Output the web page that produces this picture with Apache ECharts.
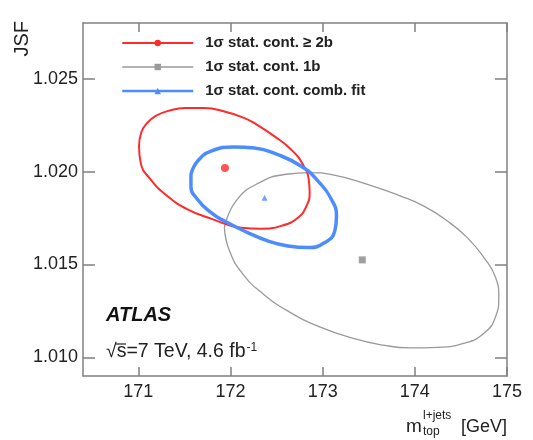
<!DOCTYPE html>
<html>
<head>
<meta charset="utf-8">
<script src="https://cdn.jsdelivr.net/npm/echarts@6/dist/echarts.min.js"></script>
<style>
  html, body { margin: 0; padding: 0; background: #fff; }
  #chart { width: 533px; height: 440px; }
</style>
</head>
<body>
<div id="chart"></div>
<script>
// tick labels
var xTicks = [171, 172, 173, 174, 175];
var yTicks = [1.010, 1.015, 1.020, 1.025];

// legend names
var names = ["1σ stat. cont. ≥ 2b", "1σ stat. cont. 1b", "1σ stat. cont. comb. fit"];

// best-fit points [mtop, JSF]
var pt2b = [[171.94, 1.0202]];
var pt1b = [[173.43, 1.01525]];
var ptComb = [[172.37, 1.01859]];

// 1 sigma contours
var ell2b = [
  [171.008, 1.02136], [171.030, 1.02208], [171.095, 1.02261], [171.190, 1.02300],
  [171.340, 1.02329], [171.510, 1.02342], [171.716, 1.02342], [171.934, 1.02324],
  [172.151, 1.02288], [172.260, 1.02261], [172.478, 1.02190], [172.660, 1.02118],
  [172.786, 1.02038], [172.849, 1.01957], [172.859, 1.01886], [172.824, 1.01815],
  [172.732, 1.01752], [172.551, 1.01708], [172.333, 1.01693], [172.115, 1.01698],
  [171.789, 1.01747], [171.534, 1.01797], [171.316, 1.01868], [171.135, 1.01957],
  [171.026, 1.02047], [171.008, 1.02136]
];
var ell1b = [
  [171.934, 1.01700], [172.061, 1.01843], [172.315, 1.01941], [172.606, 1.01986],
  [172.859, 1.01995], [173.113, 1.01983], [173.477, 1.01933], [173.840, 1.01870],
  [174.094, 1.01816], [174.349, 1.01736], [174.566, 1.01646], [174.747, 1.01539],
  [174.875, 1.01432], [174.911, 1.01325], [174.875, 1.01218], [174.747, 1.01129],
  [174.529, 1.01075], [174.240, 1.01054], [173.949, 1.01051], [173.658, 1.01066],
  [173.331, 1.01102], [172.968, 1.01164], [172.642, 1.01244], [172.351, 1.01343],
  [172.133, 1.01450], [171.988, 1.01575], [171.934, 1.01700]
];
var ellComb = [
  [171.571, 1.01984], [171.643, 1.02056], [171.789, 1.02110], [172.042, 1.02133],
  [172.260, 1.02127], [172.514, 1.02091], [172.769, 1.02029], [172.950, 1.01949],
  [173.096, 1.01850], [173.150, 1.01761], [173.132, 1.01681], [173.023, 1.01618],
  [172.841, 1.01591], [172.623, 1.01600], [172.405, 1.01627], [172.187, 1.01672],
  [171.934, 1.01734], [171.789, 1.01779], [171.643, 1.01850], [171.571, 1.01922],
  [171.571, 1.01984]
];

var RED = "#ff2a2a";
var GRAY = "#9a9a9a";
var BLUE = "#4d8cff";
var FRAME = "#808080";
var FONT = "Liberation Sans, Arial, sans-serif";

var chart = echarts.init(document.getElementById("chart"));

function xAx(pos, labels) {
  return {
    type: "value", position: pos, min: 170.4, max: 175,
    axisLine: { show: true, lineStyle: { color: FRAME, width: 1.5 } },
    axisTick: { show: true, inside: true, length: 9, customValues: xTicks, lineStyle: { color: FRAME, width: 1.5 } },
    axisLabel: labels ? {
      show: true, customValues: xTicks, color: "#222", fontSize: 18, margin: 7, fontFamily: FONT
    } : { show: false },
    splitLine: { show: false }
  };
}
function yAx(pos, labels) {
  return {
    type: "value", position: pos, min: 1.009, max: 1.028,
    axisLine: { show: true, lineStyle: { color: FRAME, width: 1.5 } },
    axisTick: { show: true, inside: true, length: 12, customValues: yTicks, lineStyle: { color: FRAME, width: 1.5 } },
    axisLabel: labels ? {
      show: true, customValues: yTicks, color: "#222", fontSize: 18, margin: 5, fontFamily: FONT,
      formatter: function (v) { return v.toFixed(3); }
    } : { show: false },
    splitLine: { show: false }
  };
}

var option = {
  backgroundColor: "#fff",
  animation: false,
  grid: { left: 83, right: 26, top: 23, bottom: 64 },
  xAxis: [xAx("bottom", true), xAx("top", false)],
  yAxis: [yAx("left", true), yAx("right", false)],
  legend: {
    orient: "vertical", left: 116, top: 30,
    itemWidth: 71, itemHeight: 8, itemGap: 8,
    textStyle: {
      fontSize: 15, fontWeight: "bold", color: "#222", lineHeight: 16,
      fontFamily: FONT, padding: [0, 0, 0, 7]
    },
    data: [
      { name: names[0], lineStyle: { width: 2 } },
      { name: names[1], lineStyle: { width: 1.5 } },
      { name: names[2], lineStyle: { width: 2.5 } }
    ]
  },
  series: [
    {
      name: names[1], type: "line", data: ell1b, smooth: 0.5, smoothMonotone: "none",
      symbol: "rect", showSymbol: false, symbolSize: 6,
      lineStyle: { color: GRAY, width: 1.3 }, itemStyle: { color: GRAY }
    },
    {
      name: names[0], type: "line", data: ell2b, smooth: 0.5, smoothMonotone: "none",
      symbol: "circle", showSymbol: false, symbolSize: 7,
      lineStyle: { color: RED, width: 2 }, itemStyle: { color: RED }
    },
    {
      name: names[2], type: "line", data: ellComb, smooth: 0.5, smoothMonotone: "none",
      symbol: "triangle", showSymbol: false, symbolSize: 5,
      lineStyle: { color: BLUE, width: 3.5 }, itemStyle: { color: BLUE }
    },
    { name: "pt2b", type: "scatter", data: pt2b, symbol: "circle", symbolSize: 8, itemStyle: { color: RED } },
    { name: "pt1b", type: "scatter", data: pt1b, symbol: "rect", symbolSize: 7, itemStyle: { color: "#888" } },
    { name: "ptComb", type: "scatter", data: ptComb, symbol: "triangle", symbolSize: 6, itemStyle: { color: BLUE } }
  ],
  graphic: [
    {
      type: "text", x: 106, y: 315,
      style: {
        text: "ATLAS", fontSize: 20, fontWeight: "bold", fontStyle: "italic",
        fill: "#111", fontFamily: FONT, verticalAlign: "middle"
      }
    },
    {
      type: "text", x: 106, y: 352,
      style: {
        text: "√s=7 TeV, 4.6 fb{sup|-1}", fontSize: 19.5, fill: "#222",
        fontFamily: FONT, verticalAlign: "middle",
        rich: { sup: { fontSize: 12, verticalAlign: "top", padding: [0, 0, 9, 1] } }
      }
    },
    {
      // overline on the s of sqrt(s)
      type: "line", shape: { x1: 116, y1: 344, x2: 126, y2: 344 },
      style: { stroke: "#222", lineWidth: 1.2 }
    },
    {
      type: "text", x: 22, y: 21, rotation: Math.PI / 2,
      style: {
        text: "JSF", fontSize: 20, fill: "#222", align: "right", verticalAlign: "middle",
        fontFamily: FONT
      }
    },
    {
      type: "text", x: 406, y: 427,
      style: { text: "m", fontSize: 19, fill: "#222", fontFamily: FONT, verticalAlign: "middle" }
    },
    {
      type: "text", x: 423, y: 416,
      style: { text: "l+jets", fontSize: 12, fill: "#222", fontFamily: FONT, verticalAlign: "middle" }
    },
    {
      type: "text", x: 423, y: 432,
      style: { text: "top", fontSize: 12, fill: "#222", fontFamily: FONT, verticalAlign: "middle" }
    },
    {
      type: "text", x: 507, y: 427,
      style: {
        text: "[GeV]", fontSize: 18, fill: "#222", fontFamily: FONT,
        align: "right", verticalAlign: "middle"
      }
    }
  ]
};

chart.setOption(option);
</script>
</body>
</html>
